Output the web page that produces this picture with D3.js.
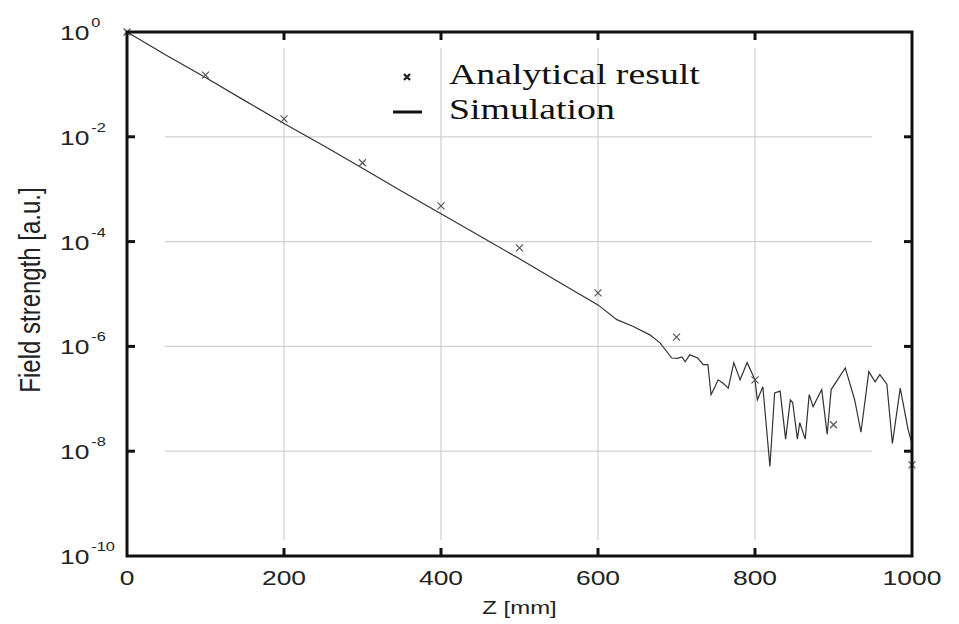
<!DOCTYPE html>
<html>
<head>
<meta charset="utf-8">
<script src="https://cdn.jsdelivr.net/npm/d3@7"></script>
<style>
  body { margin: 0; background: #fff; }
  svg { display: block; }
</style>
</head>
<body>
<script>
// analytical points (marked with x)
var anaZ = [0, 100, 200, 300, 400, 500, 600, 700, 800, 900, 1000];
var anaVal = [1, 0.15, 0.022, 3.2e-3, 4.8e-4, 7.6e-5, 1.05e-5, 1.5e-6, 2.3e-7, 3.2e-8, 5.5e-9];

// simulation curve
var simZ = [0, 50, 100, 150, 200, 250, 300, 350, 400, 450, 500, 550, 600,
	624, 645, 666, 679, 694, 701, 707, 711, 717, 727, 734, 740, 744, 749, 753, 759, 766,
	773, 781, 790, 800, 803, 810, 819, 825, 832, 839, 845, 848, 854, 857, 864, 869, 874,
	885, 892, 897, 915, 927, 935, 945, 953, 959, 968, 975, 985, 995, 1000];
var simVal = [1, 0.36, 0.135, 0.049, 0.018, 6.8e-3, 2.5e-3, 9.1e-4, 3.4e-4, 1.26e-4, 4.7e-5, 1.7e-5, 6.2e-6,
	3.24e-6, 2.4e-6, 1.66e-6, 1.17e-6, 6.0e-7, 5.9e-7, 6.3e-7, 5.1e-7, 6.9e-7, 6.0e-7, 4.5e-7, 4.5e-7, 1.2e-7, 1.7e-7, 2.3e-7, 2.0e-7, 1.6e-7,
	4.9e-7, 2.3e-7, 4.9e-7, 2.3e-7, 9.5e-8, 1.7e-7, 5.1e-9, 1.3e-7, 1.4e-7, 1.7e-8, 9.5e-8, 8.5e-8, 1.7e-8, 3.5e-8, 1.7e-8, 1.2e-7, 7.1e-8,
	1.5e-7, 2.1e-8, 1.5e-7, 3.9e-7, 9.5e-8, 2.3e-8, 3.3e-7, 2.1e-7, 2.9e-7, 1.9e-7, 1.4e-8, 1.6e-7, 2.6e-8, 1.4e-8];

var xTicks = [0, 200, 400, 600, 800, 1000];
var yExps = [0, -2, -4, -6, -8, -10];
var legendLabels = ["Analytical result", "Simulation"];

var width = 959
var height = 624
var pl = 127, pr = 912, pt = 32, pb = 556
var stretch = 1.26   // the original picture is a bit wide

var svg = d3.select("body")
	.append("svg")
	.attr("width", width)
	.attr("height", height)

var x = d3.scaleLinear().domain([0, 1000]).range([pl, pr])
var y = d3.scaleLog().domain([1e-10, 1]).range([pb, pt])

// grid (inset a bit like the original)
var grid = svg.append("g").attr("stroke", "#cfcfcf").attr("stroke-width", 1.2)
grid.selectAll("line.h")
	.data(yExps.slice(1, -1))
	.enter()
	.append("line")
	.attr("x1", 165)
	.attr("x2", 872)
	.attr("y1", function(d) { return y(Math.pow(10, d)) })
	.attr("y2", function(d) { return y(Math.pow(10, d)) })
grid.selectAll("line.v")
	.data(xTicks.slice(1, -1))
	.enter()
	.append("line")
	.attr("x1", function(d) { return x(d) })
	.attr("x2", function(d) { return x(d) })
	.attr("y1", 48)
	.attr("y2", 540)

// simulation line
var line = d3.line()
	.x(function(d, i) { return x(simZ[i]) })
	.y(function(d) { return y(d) })

svg.append("path")
	.datum(simVal)
	.attr("d", line)
	.attr("fill", "none")
	.attr("stroke", "#333")
	.attr("stroke-width", 1.2)

// analytical x markers
var xMark = "M-3.5,-3.5L3.5,3.5M-3.5,3.5L3.5,-3.5"
svg.selectAll("path.mark")
	.data(anaVal)
	.enter()
	.append("path")
	.attr("d", xMark)
	.attr("transform", function(d, i) { return "translate(" + x(anaZ[i]) + "," + y(d) + ")" })
	.attr("fill", "none")
	.attr("stroke", "#555")
	.attr("stroke-width", 1.2)

// frame
svg.append("rect")
	.attr("x", pl)
	.attr("y", pt)
	.attr("width", pr - pl)
	.attr("height", pb - pt)
	.attr("fill", "none")
	.attr("stroke", "#111")
	.attr("stroke-width", 3)

// inward ticks
var ticks = svg.append("g").attr("stroke", "#111").attr("stroke-width", 3)
xTicks.slice(1, -1).forEach(function(t) {
	ticks.append("line").attr("x1", x(t)).attr("x2", x(t)).attr("y1", pb).attr("y2", pb - 8)
	ticks.append("line").attr("x1", x(t)).attr("x2", x(t)).attr("y1", pt).attr("y2", pt + 8)
})
yExps.slice(1, -1).forEach(function(e) {
	var yy = y(Math.pow(10, e))
	ticks.append("line").attr("x1", pl).attr("x2", pl + 8).attr("y1", yy).attr("y2", yy)
	ticks.append("line").attr("x1", pr).attr("x2", pr - 8).attr("y1", yy).attr("y2", yy)
})

// tick labels
var labelFont = "'Liberation Sans', Arial, sans-serif"
svg.selectAll("text.xt")
	.data(xTicks)
	.enter()
	.append("text")
	.attr("transform", function(d) { return "translate(" + x(d) + ",585) scale(" + stretch + ",1)" })
	.attr("text-anchor", "middle")
	.attr("font-family", labelFont)
	.attr("font-size", 21)
	.attr("fill", "#222")
	.text(function(d) { return d })

var yl = svg.selectAll("text.yt")
	.data(yExps)
	.enter()
	.append("text")
	.attr("transform", function(d) { return "translate(60," + (y(Math.pow(10, d)) + 8) + ") scale(" + stretch + ",1)" })
	.attr("font-family", labelFont)
	.attr("font-size", 21)
	.attr("fill", "#222")
yl.append("tspan").text("10")
yl.append("tspan")
	.attr("dx", 1.5)
	.attr("dy", -13)
	.attr("font-size", 13)
	.text(function(d) { return d == 0 ? "0" : "-" + (-d) })

// axis titles
svg.append("text")
	.attr("transform", "translate(" + ((pl + pr) / 2) + ",614) scale(" + stretch + ",1)")
	.attr("text-anchor", "middle")
	.attr("font-family", labelFont)
	.attr("font-size", 19)
	.attr("fill", "#222")
	.text("Z [mm]")

svg.append("text")
	.attr("transform", "translate(40,290) scale(" + stretch + ",1) rotate(-90)")
	.attr("text-anchor", "middle")
	.attr("font-family", labelFont)
	.attr("font-size", 24)
	.attr("fill", "#222")
	.text("Field strength [a.u.]")

// legend
var serif = "'Liberation Serif', 'Times New Roman', serif"
svg.append("path")
	.attr("d", "M-3,-3L3,3M-3,3L3,-3")
	.attr("transform", "translate(407,77)")
	.attr("stroke", "#222")
	.attr("stroke-width", 2.4)
svg.append("line")
	.attr("x1", 393).attr("x2", 422)
	.attr("y1", 112).attr("y2", 112)
	.attr("stroke", "#111")
	.attr("stroke-width", 3)
svg.selectAll("text.leg")
	.data(legendLabels)
	.enter()
	.append("text")
	.attr("transform", function(d, i) { return "translate(449," + (84 + i * 35) + ") scale(" + stretch + ",1)" })
	.attr("font-family", serif)
	.attr("font-size", 30)
	.attr("fill", "#111")
	.text(function(d) { return d })
</script>
</body>
</html>
